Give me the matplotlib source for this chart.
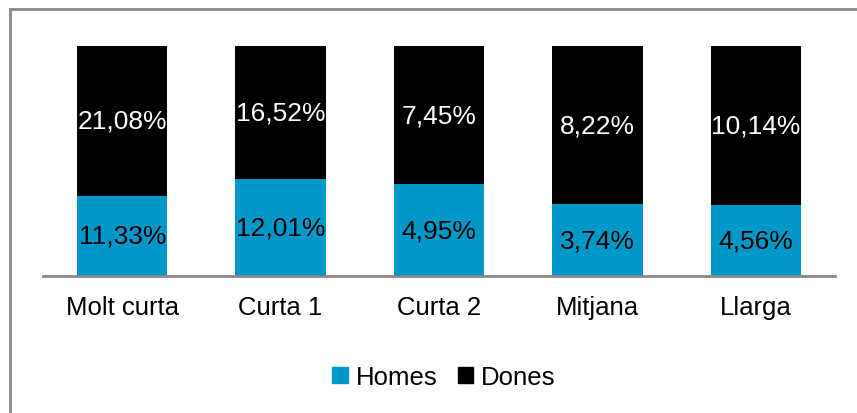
import matplotlib
matplotlib.use("Agg")
import matplotlib.pyplot as plt
from matplotlib.patches import Patch
from matplotlib.lines import Line2D
import numpy as np

categories = ["Molt curta", "Curta 1", "Curta 2", "Mitjana", "Llarga"]
homes = [11.33, 12.01, 4.95, 3.74, 4.56]
dones = [21.08, 16.52, 7.45, 8.22, 10.14]

blue = "#0098C8"
plt.rcParams['font.family'] = ['Liberation Sans', 'DejaVu Sans']

fig = plt.figure(figsize=(8.57, 4.14), dpi=100)
ax = fig.add_axes([43 / 857, 0.331, (835 - 43) / 857, 0.8865 - 0.331])

x = np.arange(len(categories))
h = np.array(homes)
d = np.array(dones)
tot = h + d
hf = h / tot
df = d / tot

ax.bar(x, hf, width=0.57, color=blue, label="Homes")
ax.bar(x, df, width=0.57, bottom=hf, color="black", label="Dones")

def fmt(v):
    return f"{v:.2f}%".replace(".", ",")

for i in range(len(categories)):
    ax.text(x[i], hf[i] / 2, fmt(homes[i]), ha="center", va="center",
            fontsize=19, color="black")
    ax.text(x[i], hf[i] + df[i] / 2, fmt(dones[i]), ha="center", va="center",
            fontsize=19, color="white")

ax.set_xlim(-0.5, len(categories) - 0.5)
ax.set_ylim(0, 1)
ax.set_yticks([])
ax.set_xticks(x)
ax.set_xticklabels(categories, fontsize=18.5)
ax.tick_params(axis="x", length=0, pad=14)
for s in ["top", "right", "left"]:
    ax.spines[s].set_visible(False)
ax.spines["bottom"].set_color("#888888")
ax.spines["bottom"].set_linewidth(2)

handles = [Patch(color=blue, label="Homes"), Patch(color="black", label="Dones")]
fig.legend(handles=handles, loc="center", bbox_to_anchor=(0.518, 1 - 378 / 414),
           ncol=2, frameon=False, fontsize=18.5, handlelength=0.6, handleheight=0.6,
           handletextpad=0.3, columnspacing=0.8)

# outer frame (left and top edges visible)
fig.add_artist(Line2D([9.5 / 857, 9.5 / 857], [0, 1 - 9.5 / 414], color="#888888", lw=2,
                      transform=fig.transFigure))
fig.add_artist(Line2D([9.5 / 857, 1], [1 - 9.5 / 414, 1 - 9.5 / 414], color="#888888", lw=2,
                      transform=fig.transFigure))

fig.savefig("out.png", dpi=100)
